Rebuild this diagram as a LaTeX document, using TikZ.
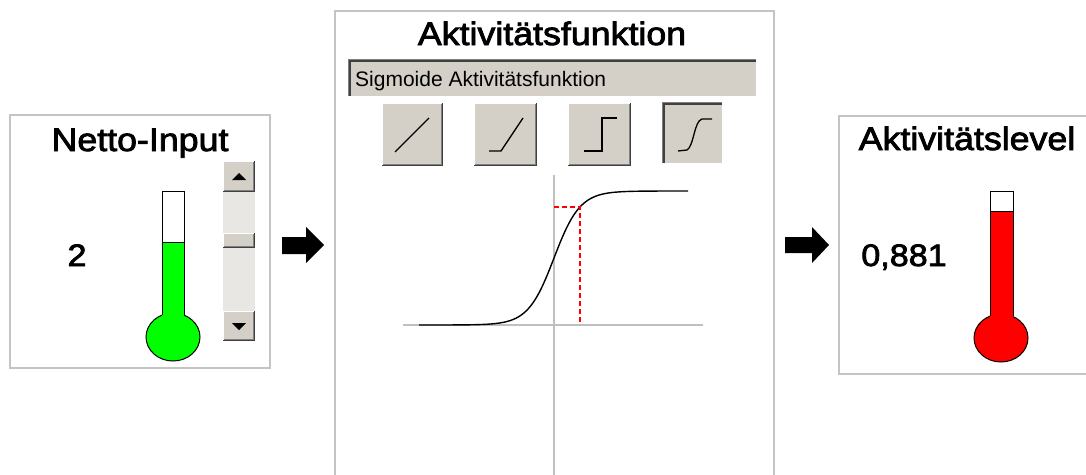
\documentclass[tikz,border=0pt]{standalone}
\usepackage{fontspec}
\setmainfont{Liberation Sans}
\newfontfamily\wide[FakeStretch=1.1,FakeBold=2.5]{Liberation Sans}
\definecolor{frame}{HTML}{C4C4C4}
\definecolor{btn}{HTML}{D4D0C8}
\definecolor{shadowdk}{HTML}{404040}
\definecolor{shadowmd}{HTML}{808080}
\definecolor{track}{HTML}{E8E7E4}
\definecolor{axis}{HTML}{C0C0C0}
\definecolor{hotred}{HTML}{FF0000}
\definecolor{hotgreen}{HTML}{00FF00}
% raised Windows-style button: corners (x1,y1) and (x2,y2)
\newcommand\winraised[4]{%
  \fill[btn] (#1,#2) rectangle (#3,#4);
  \draw[white, line width=1pt] (#1+0.5,#4-1) -- (#1+0.5,#2+0.5) -- (#3-1,#2+0.5);
  \draw[shadowdk, line width=1pt] (#1,#4-0.5) -- (#3-0.5,#4-0.5) -- (#3-0.5,#2);
  \draw[shadowmd, line width=1pt] (#1+1,#4-1.5) -- (#3-1.5,#4-1.5) -- (#3-1.5,#2+1);
}
% pressed (sunken) button or field
\newcommand\winsunken[4]{%
  \fill[btn] (#1,#2) rectangle (#3,#4);
  \draw[white, line width=1pt] (#1,#4-0.5) -- (#3-0.5,#4-0.5) -- (#3-0.5,#2);
  \draw[shadowmd, line width=1pt] (#1+0.5,#4-1) -- (#1+0.5,#2+0.5) -- (#3-1,#2+0.5);
  \draw[shadowdk, line width=1.5pt] (#1+1.75,#4-1.5) -- (#1+1.75,#2+1.75) -- (#3-1.5,#2+1.75);
}
\begin{document}
\begin{tikzpicture}[x=1pt,y=-1pt,
  panel/.style={draw=frame, line width=1.5pt, fill=white, inner sep=0pt, anchor=north west},
  heading/.style={font=\wide\fontsize{32.5}{36}\selectfont, anchor=base, inner sep=0pt},
  readout/.style={font=\wide\fontsize{31}{34}\selectfont, anchor=base, inner sep=0pt},
  fieldtext/.style={font=\fontsize{21}{24}\selectfont, anchor=base west, inner sep=0pt},
  bulb/.style={draw=black, line width=1pt},
  icon/.style={line width=1.3pt, black},
  blockarrow/.style={fill=black},
  guide/.style={draw=axis, line width=1.2pt},
  marker/.style={draw=hotred, line width=1.3pt, dash pattern=on 5pt off 3pt}]
\useasboundingbox (0,0) rectangle (1086,474);

% ---------- panels ----------
\node[panel, minimum width=260pt, minimum height=253pt] (inpanel) at (9,114) {};
\node[panel, minimum width=439pt, minimum height=480pt] (fnpanel) at (334,10) {};
\node[panel, minimum width=270pt, minimum height=258pt] (outpanel) at (838,115) {};

% ---------- net input ----------
\node[heading] (intitle) at (140,151) {Netto-Input};
\node[readout] (inval) at (77,266) {2};

% thermometer (green)
\draw[bulb, fill=hotgreen] (173,337) ellipse [x radius=27, y radius=24];
\fill[white] (162,191) rectangle (184,242);
\fill[hotgreen] (162,242) rectangle (184,330);
\draw[bulb] (162,315) -- (162,191) -- (184,191) -- (184,315);
\draw[bulb] (162,242) -- (184,242);

% scrollbar
\fill[track] (223,161) rectangle (255,341);
\winraised{223}{161}{255}{192}
\winraised{223}{233}{255}{248}
\winraised{223}{311}{255}{341}
\fill[black] (232,180) -- (246,180) -- (239,173) -- cycle;
\fill[black] (232,323) -- (246,323) -- (239,330) -- cycle;

% ---------- arrows ----------
\fill[blockarrow] (282,237) -- (306,237) -- (306,227) -- (324,245) -- (306,263) -- (306,254) -- (282,254) -- cycle;
\fill[blockarrow] (785,237) -- (812,237) -- (812,227) -- (829,245) -- (812,263) -- (812,253) -- (785,253) -- cycle;

% ---------- activation function ----------
\node[heading] (fntitle) at (552,45) {Aktivitätsfunktion};
\winsunken{348}{59}{757}{97}
\node[fieldtext] (fnname) at (355,86) {Sigmoide Aktivitätsfunktion};

% function buttons
\winraised{382}{103}{443}{166}
\winraised{474}{103}{537}{166}
\winraised{568}{103}{631}{166}
\winsunken{662}{102}{723}{164}
\draw[icon] (395,152) -- (429,118);
\draw[icon] (489,151) -- (501,151) -- (523,118);
\draw[icon] (584,151) -- (602,151) -- (602,118) -- (617,118);
\draw[icon] (678,151) -- (687,150) .. controls (694,146) and (694,121) .. (702,119) -- (712,119);

% graph axes
\coordinate (ytop) at (554,175);
\coordinate (ybot) at (554,480);
\coordinate (xl) at (403,325);
\coordinate (xr) at (703,325);
\draw[guide] (ytop) -- (ybot);
\draw[guide] (xl) -- (xr);

% sigmoid curve, 13pt per input unit, 134pt for output 0..1
\coordinate (sigl) at (419,325);
\coordinate (sigr) at (688,191);
\draw[line width=1.4pt, line join=round]
  (sigl) -- plot[domain=-9:9, samples=140] ({554+13*\x},{325-134/(1+exp(-\x))}) -- (sigr);

% working point for input 2
\coordinate (ypt) at (554,207);
\coordinate (wp) at (580,207);
\coordinate (xpt) at (580,325);
\draw[marker] (ypt) -- (wp) -- (xpt);

% ---------- activity level ----------
\node[heading] (outtitle) at (967,150) {Aktivitätslevel};
\node[readout] (outval) at (904,266) {0,881};

% thermometer (red)
\draw[bulb, fill=hotred] (1001,338) ellipse [x radius=27, y radius=24];
\fill[white] (990,191) rectangle (1013,211);
\fill[hotred] (990,211) rectangle (1013,330);
\draw[bulb] (990,316) -- (990,191) -- (1013,191) -- (1013,316);
\draw[bulb] (990,211) -- (1013,211);
\end{tikzpicture}
\end{document}
